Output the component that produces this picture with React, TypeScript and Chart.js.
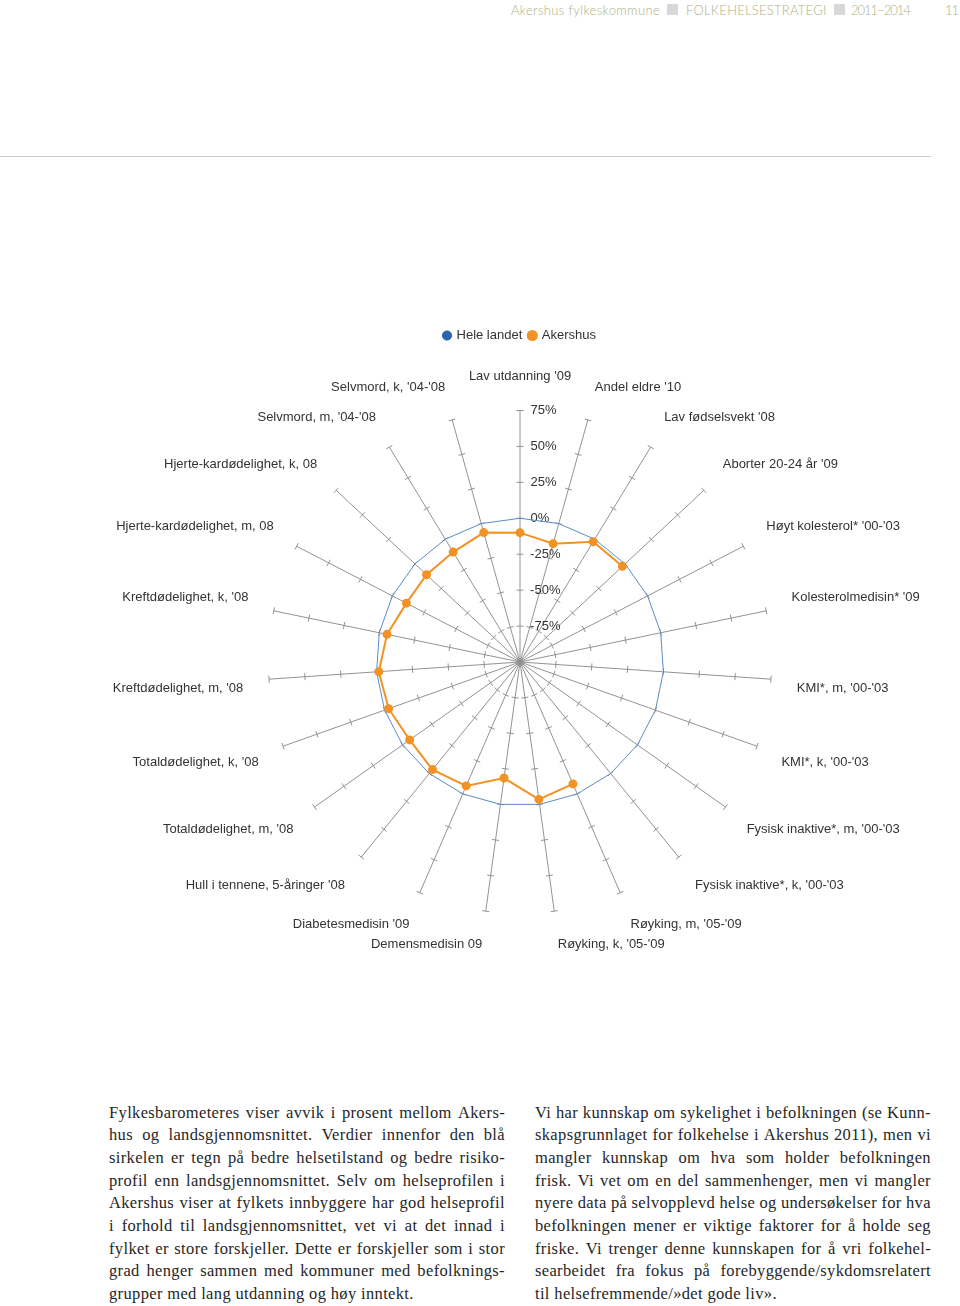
import React, { useEffect, useRef } from 'react';
import { Chart, registerables } from 'chart.js';

Chart.register(...registerables);

const categories = [
  "Lav utdanning '09",
  "Andel eldre '10",
  "Lav fødselsvekt '08",
  "Aborter 20-24 år '09",
  "Høyt kolesterol* '00-'03",
  "Kolesterolmedisin* '09",
  "KMI*, m, '00-'03",
  "KMI*, k, '00-'03",
  "Fysisk inaktive*, m, '00-'03",
  "Fysisk inaktive*, k, '00-'03",
  "Røyking, m, '05-'09",
  "Røyking, k, '05-'09",
  "Demensmedisin 09",
  "Diabetesmedisin '09",
  "Hull i tennene, 5-åringer '08",
  "Totaldødelighet, m, '08",
  "Totaldødelighet, k, '08",
  "Kreftdødelighet, m, '08",
  "Kreftdødelighet, k, '08",
  "Hjerte-kardødelighet, m, 08",
  "Hjerte-kardødelighet, k, 08",
  "Selvmord, m, '04-'08",
  "Selvmord, k, '04-'08",
];

const heleLandet = [0, 0, 0, 0, 0, 0, 0, 0, 0, 0, 0, 0, 0, 0, 0, 0, 0, 0, 0, 0, 0, 0, 0];
const akershus = [
  -10, -14.5, -2, -2.5, null, null, null, null, null, null, -7.5, -3.5,
  -18.5, -6, -3.5, -6, -3, -1.5, -5.5, -11, -11, -10.5, -6.5,
];
const seriesNames = ['Hele landet', 'Akershus'];

const rMin = -100;
const rMax = 75;
const rStep = 25;

const headerItems = ['Akershus fylkeskommune', 'FOLKEHELSESTRATEGI', '2011–2014'];
const pageNumber = '11';

const leftColumn = [
  'Fylkesbarometeres viser avvik i prosent mellom Akers-',
  'hus og landsgjennomsnittet. Verdier innenfor den blå',
  'sirkelen er tegn på bedre helsetilstand og bedre risiko-',
  'profil enn landsgjennomsnittet. Selv om helseprofilen i',
  'Akershus viser at fylkets innbyggere har god helseprofil',
  'i forhold til landsgjennomsnittet, vet vi at det innad i',
  'fylket er store forskjeller. Dette er forskjeller som i stor',
  'grad henger sammen med kommuner med befolknings-',
  'grupper med lang utdanning og høy inntekt.',
];
const rightColumn = [
  'Vi har kunnskap om sykelighet i befolkningen (se Kunn-',
  'skapsgrunnlaget for folkehelse i Akershus 2011), men vi',
  'mangler kunnskap om hva som holder befolkningen',
  'frisk. Vi vet om en del sammenhenger, men vi mangler',
  'nyere data på selvopplevd helse og undersøkelser for hva',
  'befolkningen mener er viktige faktorer for å holde seg',
  'friske. Vi trenger denne kunnskapen for å vri folkehel-',
  'searbeidet fra fokus på forebyggende/sykdomsrelatert',
  'til helsefremmende/»det gode liv».',
];

const FONT = '"Liberation Sans", Arial, sans-serif';
const SPOKE = '#929292';
const TICK_FONT_SIZE = 13;
const TICK_LABEL_OFFSET = 11;

let measureCtx: CanvasRenderingContext2D | null = null;
function textWidth(t: string, font: string) {
  if (!measureCtx) measureCtx = document.createElement('canvas').getContext('2d');
  measureCtx!.font = font;
  return measureCtx!.measureText(t).width;
}

function shiftedTickLabel(label: string) {
  const font = `${TICK_FONT_SIZE}px ${FONT}`;
  const w = textWidth(label, font);
  const sw = textWidth(' ', font);
  const n = Math.max(0, Math.round((2 * TICK_LABEL_OFFSET + w) / sw));
  return ' '.repeat(n) + label;
}

const spokeTicks = {
  id: 'spokeTicks',
  beforeDatasetsDraw(chart: any) {
    const s = chart.scales.r;
    const ctx = chart.ctx;
    const n = chart.data.labels.length;
    ctx.save();
    ctx.strokeStyle = SPOKE;
    ctx.lineWidth = 1;
    for (let i = 0; i < n; i++) {
      const a = s.getIndexAngle(i) - Math.PI / 2;
      const nx = -Math.sin(a);
      const ny = Math.cos(a);
      s.ticks.forEach((t: any) => {
        const p = s.getPointPositionForValue(i, t.value);
        ctx.beginPath();
        ctx.moveTo(p.x - nx * 3.5, p.y - ny * 3.5);
        ctx.lineTo(p.x + nx * 3.5, p.y + ny * 3.5);
        ctx.stroke();
      });
    }
    ctx.restore();
  },
};

function RadarChart() {
  const ref = useRef<HTMLCanvasElement | null>(null);
  useEffect(() => {
    if (!ref.current) return;
    const chart = new Chart(ref.current, {
      type: 'radar',
      data: {
        labels: categories,
        datasets: [
          {
            label: seriesNames[0],
            data: heleLandet,
            borderColor: '#5b8cc5',
            backgroundColor: '#2a65ae',
            borderWidth: 1,
            pointRadius: 0,
            pointHoverRadius: 0,
            pointBackgroundColor: '#2a65ae',
            pointBorderColor: '#2a65ae',
            fill: false,
            order: 1,
          },
          {
            label: seriesNames[1],
            data: akershus,
            borderColor: '#f39224',
            backgroundColor: '#f39224',
            borderWidth: 2,
            pointRadius: 3.5,
            pointHoverRadius: 3.5,
            pointBackgroundColor: '#f39224',
            pointBorderColor: '#f39224',
            fill: false,
            spanGaps: false,
            order: 0,
          },
        ],
      } as any,
      options: {
        animation: false,
        responsive: true,
        maintainAspectRatio: false,
        layout: { padding: 0 },
        plugins: {
          legend: {
            position: 'top',
            labels: {
              usePointStyle: true,
              pointStyle: 'circle',
              boxWidth: 6,
              boxHeight: 6.5,
              padding: 7,
              color: '#333',
              font: { size: 13, family: FONT },
              sort: (a: any, b: any) => a.datasetIndex - b.datasetIndex,
            },
          },
          title: {
            display: true,
            text: '',
            weight: 500,
            font: { size: 10, lineHeight: 1 },
            padding: { top: 0, bottom: 6 },
          },
          tooltip: { enabled: false },
        },
        scales: {
          r: {
            min: rMin,
            max: rMax,
            startAngle: 0,
            grid: { display: false },
            angleLines: { display: true, color: SPOKE, lineWidth: 1 },
            ticks: {
              stepSize: rStep,
              display: true,
              showLabelBackdrop: false,
              backdropPadding: 2,
              color: '#333',
              font: { size: TICK_FONT_SIZE, family: FONT },
              callback: (v: any) => (Number(v) === rMin ? '' : shiftedTickLabel(`${v}%`)),
            },
            pointLabels: {
              display: true,
              padding: 17.4,
              color: '#333',
              font: { size: 13, family: FONT },
            },
          },
        },
      } as any,
      plugins: [spokeTicks],
    });
    return () => chart.destroy();
  }, []);
  return <canvas ref={ref} />;
}

function JustifiedLines({ lines, left, top }: { lines: string[]; left: number; top: number }) {
  return (
    <>
      {lines.map((line, i) => {
        const last = i === lines.length - 1;
        return (
          <div
            key={i}
            style={{
              position: 'absolute',
              left,
              top: top + i * 22.65,
              width: 396,
              height: 22.65,
              lineHeight: '22.65px',
              display: 'flex',
              justifyContent: last ? 'flex-start' : 'space-between',
              whiteSpace: 'pre',
              fontFamily: '"Liberation Serif", "DejaVu Serif", serif',
              fontSize: 16.5,
              letterSpacing: '0.35px',
              color: '#262626',
            }}
          >
            {last ? <span>{line}</span> : line.split(' ').map((w, j) => <span key={j}>{w}</span>)}
          </div>
        );
      })}
    </>
  );
}

export default function App() {
  const headerStyle: React.CSSProperties = {
    position: 'absolute',
    top: 2,
    lineHeight: '16px',
    fontSize: 13,
    fontFamily: 'Lato, "Open Sans", sans-serif',
    fontWeight: 300,
    color: '#aeb283',
    whiteSpace: 'nowrap',
  };
  const square: React.CSSProperties = {
    position: 'absolute',
    top: 4,
    width: 11,
    height: 11,
    background: '#d8d8d8',
  };
  return (
    <div
      style={{
        position: 'absolute',
        left: 0,
        top: 0,
        width: 960,
        height: 1306,
        overflow: 'hidden',
        background: '#ffffff',
      }}
    >
      <div style={{ ...headerStyle, left: 511, letterSpacing: '0.35px' }}>{headerItems[0]}</div>
      <div style={{ ...square, left: 667 }} />
      <div style={{ ...headerStyle, left: 686, letterSpacing: '0.25px' }}>{headerItems[1]}</div>
      <div style={{ ...square, left: 834 }} />
      <div style={{ ...headerStyle, left: 851, letterSpacing: '-1px' }}>{headerItems[2]}</div>
      <div style={{ ...headerStyle, right: 2, letterSpacing: '-1px' }}>{pageNumber}</div>
      <div style={{ position: 'absolute', left: 0, top: 156, width: 931, height: 1, background: '#c9c9c9' }} />

      <div style={{ position: 'absolute', left: 0, top: 322, width: 1040, height: 632 }}>
        <RadarChart />
      </div>

      <JustifiedLines lines={leftColumn} left={109} top={1101.7} />
      <JustifiedLines lines={rightColumn} left={535} top={1101.7} />
    </div>
  );
}
